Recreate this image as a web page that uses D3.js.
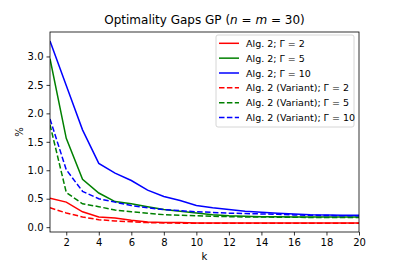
<!DOCTYPE html>
<html>
<head>
<meta charset="utf-8">
<script src="https://cdn.jsdelivr.net/npm/d3@7"></script>
<style>
  body { margin: 0; background: #fff; }
  text { font-family: "DejaVu Sans", sans-serif; fill: #000; }
</style>
</head>
<body>
<div id="chart"></div>
<script>
// Optimality gaps line chart

var ks = d3.range(1, 21);

var alg2G2  = [0.51, 0.44, 0.27, 0.18, 0.16, 0.12, 0.09, 0.08, 0.08, 0.075, 0.075, 0.075, 0.075, 0.075, 0.075, 0.075, 0.075, 0.075, 0.075, 0.075];
var alg2G5  = [2.96, 1.56, 0.84, 0.60, 0.45, 0.41, 0.36, 0.31, 0.28, 0.25, 0.22, 0.20, 0.19, 0.185, 0.185, 0.18, 0.18, 0.18, 0.18, 0.18];
var alg2G10 = [3.27, 2.49, 1.71, 1.12, 0.95, 0.82, 0.65, 0.54, 0.47, 0.38, 0.34, 0.31, 0.28, 0.26, 0.245, 0.233, 0.22, 0.215, 0.21, 0.21];
var varG2   = [0.34, 0.25, 0.18, 0.13, 0.11, 0.095, 0.08, 0.075, 0.07, 0.07, 0.07, 0.07, 0.07, 0.07, 0.07, 0.07, 0.07, 0.07, 0.07, 0.07];
var varG5   = [1.80, 0.61, 0.41, 0.36, 0.30, 0.27, 0.245, 0.22, 0.21, 0.20, 0.19, 0.185, 0.18, 0.18, 0.175, 0.175, 0.17, 0.17, 0.17, 0.17];
var varG10  = [1.90, 1.01, 0.63, 0.50, 0.44, 0.38, 0.34, 0.31, 0.29, 0.27, 0.26, 0.245, 0.24, 0.233, 0.225, 0.215, 0.21, 0.205, 0.20, 0.20];

var seriesNames = ["Alg. 2; Γ = 2", "Alg. 2; Γ = 5", "Alg. 2; Γ = 10",
  "Alg. 2 (Variant); Γ = 2", "Alg. 2 (Variant); Γ = 5", "Alg. 2 (Variant); Γ = 10"];
var seriesValues = [alg2G2, alg2G5, alg2G10, varG2, varG5, varG10];
var seriesColors = ["#ff0000", "#008000", "#0000ff", "#ff0000", "#008000", "#0000ff"];
var seriesDashed = [false, false, false, true, true, true];

var xTicks = d3.range(2, 21, 2);
var yTicks = [0, 0.5, 1.0, 1.5, 2.0, 2.5, 3.0];

var svgWidth = 399;
var svgHeight = 266;
var margin = { top: 32, right: 40, bottom: 34, left: 50 };
var width = svgWidth - margin.left - margin.right;
var height = svgHeight - margin.top - margin.bottom;

var svg = d3.select("#chart").append("svg")
  .attr("width", svgWidth)
  .attr("height", svgHeight);

var chartGroup = svg.append("g")
  .attr("transform", `translate(${margin.left}, ${margin.top})`);

var xScale = d3.scaleLinear().domain([1, 20]).range([0, width]);
var yScale = d3.scaleLinear().domain([-0.085, 3.43]).range([height, 0]);

// axes
var bottomAxis = d3.axisBottom(xScale).tickValues(xTicks).tickSize(3.5).tickPadding(3);
var leftAxis = d3.axisLeft(yScale).tickValues(yTicks).tickSize(3.5).tickPadding(3)
  .tickFormat(d3.format(".1f"));

var xg = chartGroup.append("g")
  .attr("transform", `translate(0, ${height})`)
  .call(bottomAxis);
var yg = chartGroup.append("g").call(leftAxis);
[xg, yg].forEach(function(g) {
  g.select(".domain").remove();
  g.selectAll("text").attr("font-size", "10px").style("font-family", "DejaVu Sans, sans-serif");
  g.selectAll("line").attr("stroke", "#000").attr("stroke-width", 0.8);
});

// lines
var line = d3.line()
  .x(function(d, i) { return xScale(ks[i]); })
  .y(function(d) { return yScale(d); });

var clip = chartGroup.append("clipPath").attr("id", "clip")
  .append("rect").attr("width", width).attr("height", height);

chartGroup.append("g").attr("clip-path", "url(#clip)")
  .selectAll("path")
  .data(seriesValues)
  .enter()
  .append("path")
  .attr("d", line)
  .attr("fill", "none")
  .attr("stroke", function(d, i) { return seriesColors[i]; })
  .attr("stroke-width", 1.5)
  .attr("stroke-dasharray", function(d, i) { return seriesDashed[i] ? "5.5,2.4" : null; });

// frame
chartGroup.append("rect")
  .attr("width", width).attr("height", height)
  .attr("fill", "none").attr("stroke", "#000").attr("stroke-width", 0.8);

// title
var title = svg.append("text")
  .attr("x", margin.left + width / 2)
  .attr("y", 24)
  .attr("text-anchor", "middle")
  .attr("font-size", "12px");
title.append("tspan").text("Optimality Gaps GP (");
title.append("tspan").attr("font-style", "italic").text("n");
title.append("tspan").text(" = ");
title.append("tspan").attr("font-style", "italic").text("m");
title.append("tspan").text(" = 30)");

// axis labels
svg.append("text")
  .attr("x", margin.left + width / 2)
  .attr("y", 260)
  .attr("text-anchor", "middle")
  .attr("font-size", "10px")
  .text("k");

svg.append("text")
  .attr("transform", "rotate(-90)")
  .attr("x", -(margin.top + height / 2))
  .attr("y", 23)
  .attr("text-anchor", "middle")
  .attr("font-size", "10px")
  .text("%");

// legend
var legend = chartGroup.append("g")
  .attr("transform", `translate(${216 - margin.left}, ${35 - margin.top})`);

legend.append("rect")
  .attr("width", 138).attr("height", 92).attr("rx", 2)
  .attr("fill", "#fff").attr("fill-opacity", 0.8)
  .attr("stroke", "#ccc").attr("stroke-width", 0.8);

var rows = legend.selectAll("g.row")
  .data(seriesNames)
  .enter()
  .append("g")
  .attr("class", "row")
  .attr("transform", function(d, i) { return `translate(0, ${8.3 + i * 14.85})`; });

rows.append("line")
  .attr("x1", 3).attr("x2", 23)
  .attr("stroke", function(d, i) { return seriesColors[i]; })
  .attr("stroke-width", 1.5)
  .attr("stroke-dasharray", function(d, i) { return seriesDashed[i] ? "5.5,2.4" : null; });

rows.append("text")
  .attr("x", 30)
  .attr("y", 3.5)
  .attr("font-size", "9.5px")
  .text(function(d) { return d; });
</script>
</body>
</html>
